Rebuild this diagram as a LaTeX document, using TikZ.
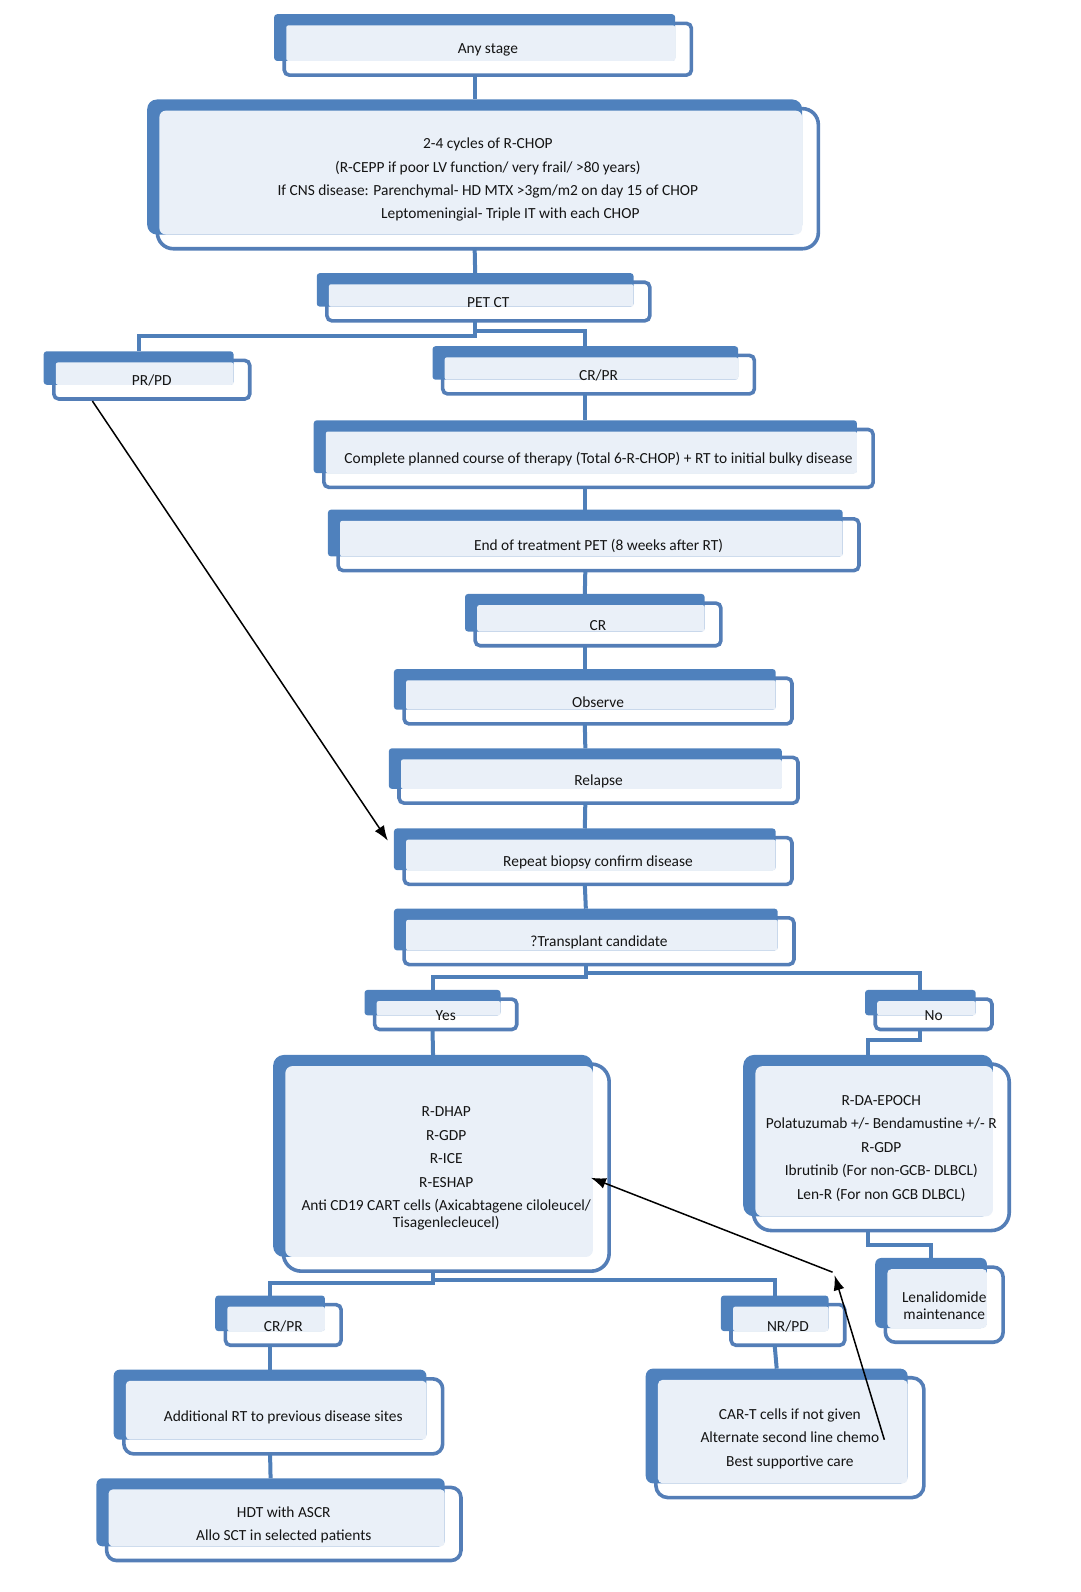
\documentclass[tikz,border=0pt]{standalone}
\usepackage{fontspec}
\setmainfont{Carlito}
\usetikzlibrary{fit,arrows.meta,calc}
\pgfdeclarelayer{bg}
\pgfsetlayers{bg,main}
\definecolor{bluef}{RGB}{79,129,189}
\definecolor{outc}{RGB}{84,126,183}
\definecolor{lightf}{RGB}{234,240,248}
\definecolor{linec}{RGB}{79,127,185}
\tikzset{
  boxtext/.style={inner sep=0pt, outer sep=0pt, align=center, text=black!92,
    font=\fontsize{15.4}{23.4}\selectfont},
  backbox/.style={inner sep=0pt, outer sep=0pt},
  outl/.style={draw=outc, fill=white, line width=3.6pt},
  conn/.style={draw=linec, line width=4pt},
  blk/.style={draw=black, line width=1.5pt, -{Latex[length=15pt,width=11pt]}},
}
\newcommand\flbox[7][5]{%
  \node[backbox, fit={(#3,#4) (#5,#6)}] (#2) {};
  \node[backbox, fit={({#3-10},{#4-9}) ({#5-16},{#6-14})}] (#2b) {};
  \begin{pgfonlayer}{bg}
    \draw[outl, rounded corners=#1pt] (#2.north west) rectangle (#2.south east);
    \fill[bluef, rounded corners={0.6*#1pt}] (#2b.north west) rectangle (#2b.south east);
    \fill[lightf, rounded corners={0.4*#1pt}] ([shift={(2,2)}]#2.north west) rectangle (#2b.south east);
  \end{pgfonlayer}
  \node[boxtext] (#2t) at ([yshift=-1pt]#2.center) {#7};
}
\begin{document}
\begin{tikzpicture}[x=1.01504pt, y=-1.01504pt]
\useasboundingbox (0,0) rectangle (1064,1568);

\flbox{any}{280}{23}{681}{74}{Any stage}
\flbox[16]{chop}{155}{107}{806}{245}{2-4 cycles of R-CHOP\\(R-CEPP if poor LV function/ very frail/ >80 years)\\If CNS disease: Parenchymal- HD MTX >3gm/m2 on day 15 of CHOP\\\hspace*{45pt}Leptomeningial- Triple IT with each CHOP}
\flbox{pet}{322}{278}{640}{316}{PET CT}
\flbox{prpd}{53}{355}{246}{393}{PR/PD}
\flbox{crpr}{436}{350}{743}{388}{CR/PR}
\flbox{compl}{319}{423}{860}{480}{Complete planned course of therapy (Total 6-R-CHOP) + RT to initial bulky disease}
\flbox{eot}{333}{511}{846}{562}{End of treatment PET (8 weeks after RT)}
\flbox{cr}{468}{594}{710}{636}{CR}
\flbox{obs}{398}{668}{780}{713}{Observe}
\flbox{rel}{393}{746}{786}{791}{Relapse}
\flbox{rep}{398}{825}{780}{871}{Repeat biopsy confirm disease}
\flbox{trans}{398}{904}{782}{950}{?Transplant candidate}
\flbox{yes}{369}{984}{509}{1014}{Yes}
\flbox{no}{862}{984}{977}{1014}{No}
\flbox[18]{lbig}{279}{1048}{600}{1252}{R-DHAP\\R-GDP\\R-ICE\\R-ESHAP\\Anti CD19 CART cells (Axicabtagene ciloleucel/\\[-6.3pt]Tisagenlecleucel)}
\flbox[18]{rbig}{742}{1048}{994}{1212}{R-DA-EPOCH\\Polatuzumab +/- Bendamustine +/- R\\R-GDP\\Ibrutinib (For non-GCB- DLBCL)\\Len-R (For non GCB DLBCL)}
\flbox[10]{len}{872}{1248}{988}{1322}{Lenalidomide\\[-6pt]maintenance}
\flbox{crpr2}{222}{1285}{336}{1325}{CR/PR}
\flbox{nrpd}{720}{1285}{832}{1325}{NR/PD}
\flbox[10]{addrt}{122}{1358}{436}{1432}{Additional RT to previous disease sites}
\flbox[10]{hdt}{105}{1465}{454}{1537}{HDT with ASCR\\Allo SCT in selected patients}
\flbox[12]{cart}{646}{1357}{910}{1475}{CAR-T cells if not given\\Alternate second line chemo\\Best supportive care}

% blue connectors
\draw[conn] (anyb |- any.south) -- (chopb.north);
\draw[conn] (chopb |- chop.south) -- (petb.north);
\draw[conn] (petb |- pet.south) -- ++(0,15) -| (prpdb.north);
\draw[conn] (petb |- pet.south) -- ++(0,10) -| (crprb.north);
\draw[conn] (crprb |- crpr.south) -- (complb.north);
\draw[conn] (complb |- compl.south) -- (eotb.north);
\draw[conn] (eotb |- eot.south) -- (crb.north);
\draw[conn] (crb |- cr.south) -- (obsb.north);
\draw[conn] (obsb |- obs.south) -- (relb.north);
\draw[conn] (relb |- rel.south) -- (repb.north);
\draw[conn] (repb |- rep.south) -- (transb.north);
\draw[conn] (transb |- trans.south) -- ++(0,12) -| (yesb.north);
\draw[conn] (transb |- trans.south) -- ++(0,8) -| (nob.north);
\draw[conn] (yesb |- yes.south) -- (lbigb.north);
\draw[conn] (nob |- no.south) -- ++(0,10) -| (rbigb.north);
\draw[conn] (rbigb |- rbig.south) -- ++(0,14) -| (lenb.north);
\draw[conn] (lbigb |- lbig.south) -- ++(0,12) -| (crpr2b.north);
\draw[conn] (lbigb |- lbig.south) -- ++(0,9) -| (nrpdb.north);
\draw[conn] (crpr2b |- crpr2.south) -- (addrtb.north);
\draw[conn] (addrtb |- addrt.south) -- (hdtb.north);
\draw[conn] (nrpdb |- nrpd.south) -- (cartb.north);

% black arrows
\coordinate (a0s) at (91,395);
\coordinate (a0e) at (382,828);
\coordinate (a1s) at (871,1418);
\coordinate (a1e) at (822,1256);
\coordinate (a2s) at (820,1253);
\coordinate (a2e) at (582,1160);
\draw[blk] (a0s) -- (a0e);
\draw[blk] (a1s) -- (a1e);
\draw[blk] (a2s) -- (a2e);
\end{tikzpicture}
\end{document}
